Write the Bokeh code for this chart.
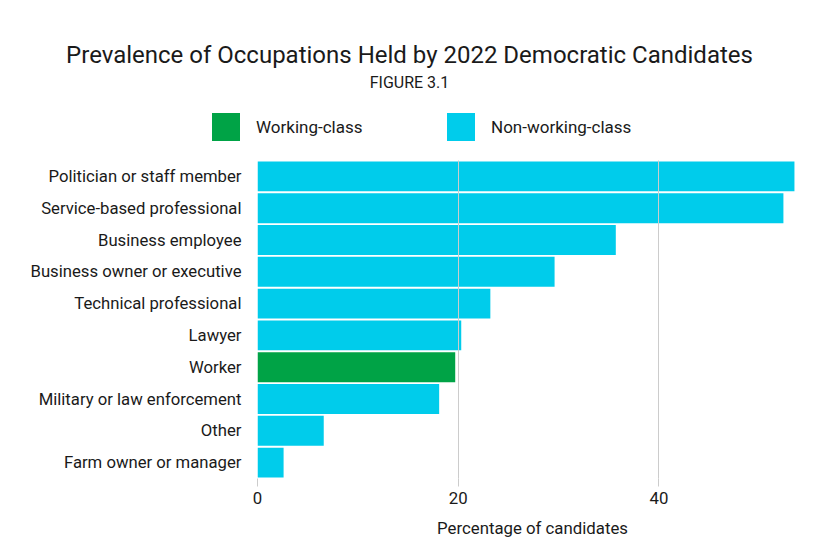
from bokeh.plotting import figure
from bokeh.layouts import column
from bokeh.models import (ColumnDataSource, FactorRange, Range1d, Legend, LegendItem,
                          Label, FixedTicker)
from bokeh.embed import file_html
from bokeh.resources import INLINE

categories = ["Politician or staff member", "Service-based professional", "Business employee",
              "Business owner or executive", "Technical professional", "Lawyer", "Worker",
              "Military or law enforcement", "Other", "Farm owner or manager"]
values = [53.5, 52.4, 35.7, 29.6, 23.2, 20.3, 19.7, 18.1, 6.6, 2.6]
classes = ["Non-working-class", "Non-working-class", "Non-working-class", "Non-working-class",
           "Non-working-class", "Non-working-class", "Working-class", "Non-working-class",
           "Non-working-class", "Non-working-class"]
class_names = ["Working-class", "Non-working-class"]
x_ticks = [0, 20, 40]
title_text = "Prevalence of Occupations Held by 2022 Democratic Candidates"
subtitle_text = "FIGURE 3.1"

COLORS = {"Working-class": "#00A346", "Non-working-class": "#00CCEB"}
FONT = "Roboto"
TEXT = "#1a1a1a"
W = 819

def subset(cls):
    idx = [i for i, c in enumerate(classes) if c == cls]
    return ColumnDataSource(dict(cat=[categories[i] for i in idx], val=[values[i] for i in idx]))

sources = {cls: subset(cls) for cls in class_names}

# ---- header (title, subtitle, legend) ----
top = figure(width=W, height=160, output_backend="svg", toolbar_location=None, title=None,
             x_range=Range1d(0, 1), y_range=FactorRange(factors=categories),
             min_border=0, min_border_left=0, min_border_right=0, min_border_top=0,
             min_border_bottom=0)
top.frame_align = False
top.axis.visible = False
top.grid.visible = False
top.outline_line_color = None

top.add_layout(Label(x=409, y=106, x_units="screen", y_units="screen", text=title_text,
                     text_align="center", text_baseline="middle", text_font=FONT,
                     text_font_size="24px", text_color=TEXT))
top.add_layout(Label(x=409, y=78, x_units="screen", y_units="screen", text=subtitle_text,
                     text_align="center", text_baseline="middle", text_font=FONT,
                     text_font_size="16px", text_color=TEXT))

key_items = []
for cls in class_names:
    r = top.hbar(y="cat", right="val", height=0.94, source=sources[cls],
                 fill_color=COLORS[cls], line_color=None, visible=False)
    key_items.append(LegendItem(label=cls, renderers=[r]))
legend = Legend(items=key_items, orientation="horizontal", location=(208, 16),
                glyph_width=35, glyph_height=35, label_standoff=13, label_width=167,
                spacing=20, padding=0, margin=0, border_line_color=None,
                background_fill_alpha=0, inactive_fill_alpha=0,
                label_text_font=FONT, label_text_font_size="17px", label_text_color=TEXT)
top.add_layout(legend, "center")

# ---- bar chart ----
p = figure(width=W, height=380, output_backend="svg", toolbar_location=None, title=None,
           y_range=FactorRange(factors=list(reversed(categories)), range_padding=0),
           x_range=Range1d(0, 54.8),
           min_border_left=257, min_border_right=12, min_border_top=0, min_border_bottom=61)
p.frame_align = False

for cls in class_names:
    p.hbar(y="cat", right="val", height=0.94, source=sources[cls],
           fill_color=COLORS[cls], line_color=None)

p.outline_line_color = None
p.ygrid.grid_line_color = None
p.xgrid.grid_line_color = "#cccccc"
p.xgrid.grid_line_width = 1
p.xgrid.level = "overlay"

p.xaxis.ticker = FixedTicker(ticks=x_ticks)
p.xaxis.axis_line_color = None
p.xaxis.major_tick_in = 0
p.xaxis.major_tick_out = 8
p.xaxis.major_tick_line_color = "#cccccc"
p.xaxis.minor_tick_line_color = None
p.xaxis.major_label_standoff = 5
p.xaxis.major_label_text_font = FONT
p.xaxis.major_label_text_font_size = "16.8px"
p.xaxis.major_label_text_color = TEXT
p.xaxis.axis_label = "Percentage of candidates"
p.xaxis.axis_label_text_font = FONT
p.xaxis.axis_label_text_font_size = "16.8px"
p.xaxis.axis_label_text_font_style = "normal"
p.xaxis.axis_label_text_color = TEXT
p.xaxis.axis_label_standoff = 11

p.yaxis.axis_line_color = None
p.yaxis.major_tick_line_color = None
p.yaxis.minor_tick_line_color = None
p.yaxis.major_tick_out = 0
p.yaxis.major_tick_in = 0
p.yaxis.major_label_standoff = 16
p.yaxis.major_label_text_font = FONT
p.yaxis.major_label_text_font_size = "16.7px"
p.yaxis.major_label_text_color = TEXT

layout = column(top, p, spacing=0)
open("out.html", "w").write(file_html(layout, INLINE))
